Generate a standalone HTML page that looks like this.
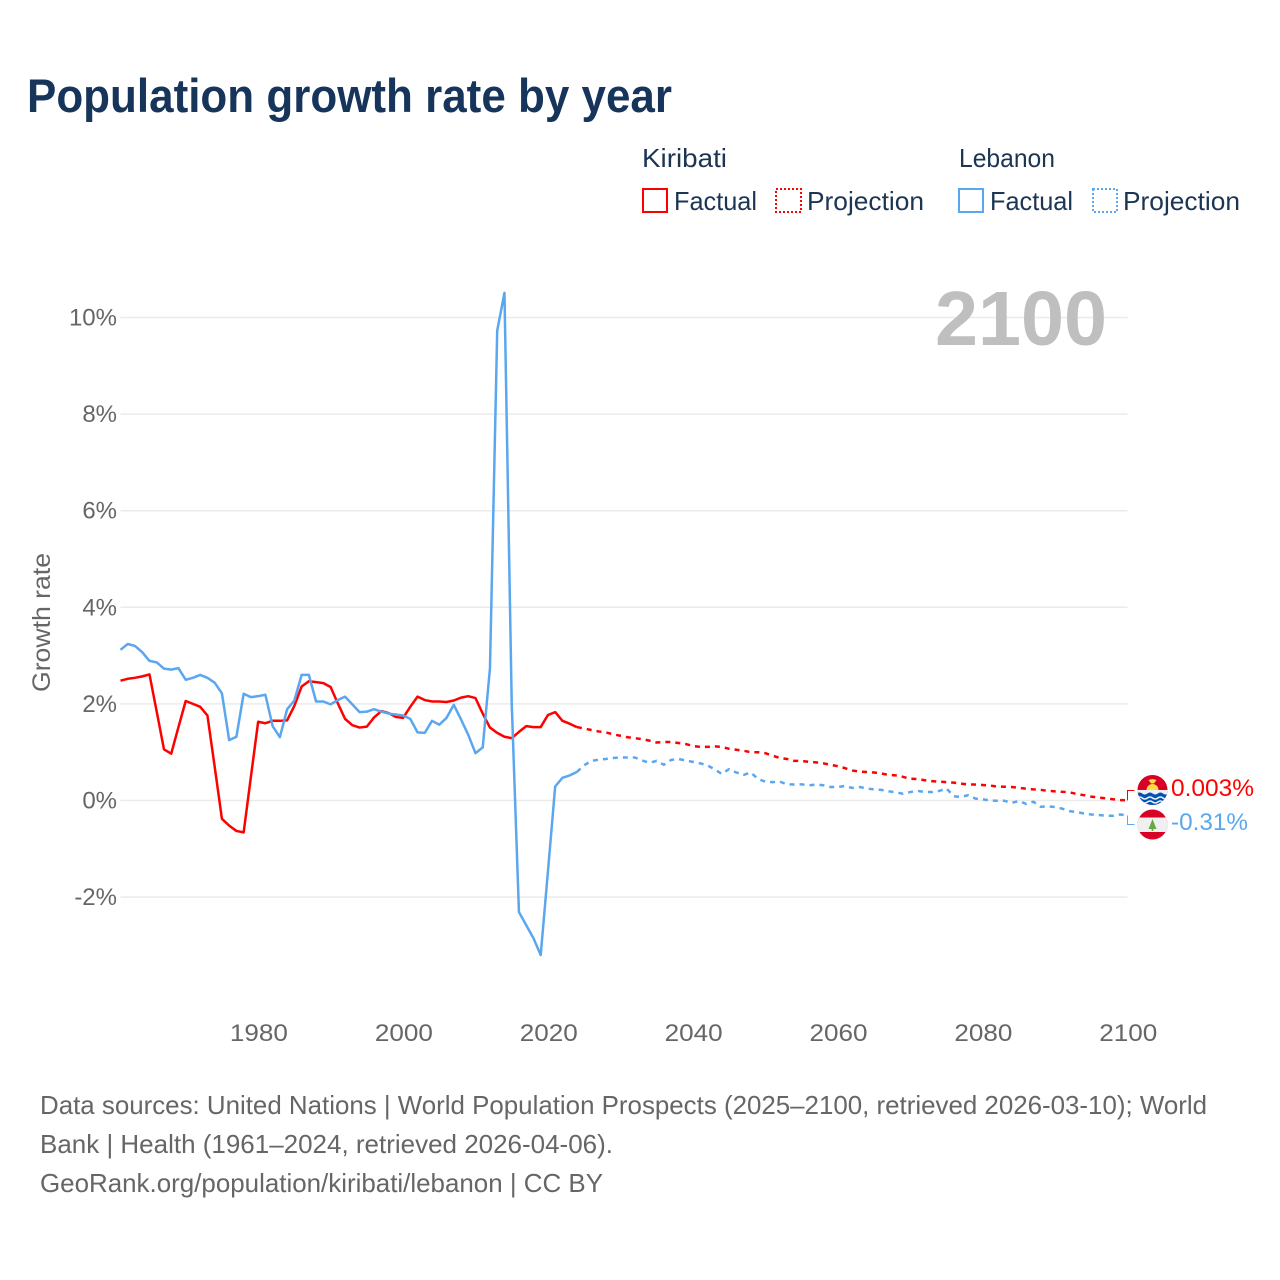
<!DOCTYPE html>
<html lang="en">
<head>
<meta charset="utf-8">
<title>Population growth rate by year</title>
<style>
  html, body { margin: 0; padding: 0; background: #fff; }
  svg { display: block; font-family: "Liberation Sans", sans-serif; }
</style>
</head>
<body>
<svg id="chart" xmlns="http://www.w3.org/2000/svg" width="1280" height="1280" viewBox="0 0 1280 1280">
  <rect x="0" y="0" width="1280" height="1280" fill="#ffffff"/>
  <text x="27" y="112" font-size="47" font-weight="700" fill="#17345a" textLength="645" lengthAdjust="spacingAndGlyphs">Population growth rate by year</text>

  <g font-size="26" fill="#1b3553">
    <text x="642" y="167" textLength="85" lengthAdjust="spacingAndGlyphs">Kiribati</text>
    <text x="959" y="167" textLength="96" lengthAdjust="spacingAndGlyphs">Lebanon</text>
    <g>
      <rect x="643" y="189" width="24" height="23" fill="none" stroke="#ff0000" stroke-width="2"/>
      <text x="674" y="210" textLength="83" lengthAdjust="spacingAndGlyphs">Factual</text>
    </g>
    <g>
      <rect x="776" y="189" width="25" height="23" fill="none" stroke="#ff0000" stroke-width="2" stroke-dasharray="2 2"/>
      <text x="807" y="210" textLength="117" lengthAdjust="spacingAndGlyphs">Projection</text>
    </g>
    <g>
      <rect x="959" y="189" width="24" height="23" fill="none" stroke="#5aa7f0" stroke-width="2"/>
      <text x="990" y="210" textLength="83" lengthAdjust="spacingAndGlyphs">Factual</text>
    </g>
    <g>
      <rect x="1093" y="189" width="24" height="23" fill="none" stroke="#5aa7f0" stroke-width="2" stroke-dasharray="2 2"/>
      <text x="1123" y="210" textLength="117" lengthAdjust="spacingAndGlyphs">Projection</text>
    </g>
  </g>

  <g id="grid"></g>
  <g id="yLabels" font-size="24" fill="#666666" text-anchor="end"></g>
  <g id="xLabels" font-size="24" fill="#666666" text-anchor="middle"></g>
  <text transform="translate(50 692) rotate(-90)" font-size="25" fill="#666666" textLength="139" lengthAdjust="spacingAndGlyphs">Growth rate</text>
  <text id="yearStamp" x="935" y="345" font-size="77" font-weight="700" fill="#bfbfbf" textLength="172" lengthAdjust="spacingAndGlyphs">2100</text>
  <g id="series"></g>

  <defs>
    <clipPath id="flagClipK"><circle cx="1152.5" cy="790" r="15"/></clipPath>
    <clipPath id="flagClipL"><circle cx="1152.5" cy="824.5" r="15"/></clipPath>
  </defs>
  <g clip-path="url(#flagClipK)">
    <rect x="1137" y="775" width="31" height="31" fill="#d80027"/>
    <rect x="1137" y="790" width="31" height="16" fill="#f0f0f0"/>
    <path d="M1146.5 790 A6 6 0 0 1 1158.5 790 Z" fill="#ffda44"/>
    <path d="M1148.5 780 L1152.5 779 L1156.5 780 L1154 783.5 L1151 783.5 Z" fill="#ffda44"/>
    <path d="M1137 793.5 q2.6 -2 5.2 0 t5.2 0 t5.2 0 t5.2 0 t5.2 0 t5.2 0 V806 H1137 Z" fill="#0052b4"/>
    <path d="M1137 798 q2.6 -2 5.2 0 t5.2 0 t5.2 0 t5.2 0 t5.2 0 t5.2 0" fill="none" stroke="#f0f0f0" stroke-width="1.5"/>
    <path d="M1137 802 q2.6 -2 5.2 0 t5.2 0 t5.2 0 t5.2 0 t5.2 0 t5.2 0" fill="none" stroke="#f0f0f0" stroke-width="1.5"/>
  </g>
  <g clip-path="url(#flagClipL)">
    <rect x="1137" y="809" width="31" height="31" fill="#d80027"/>
    <rect x="1137" y="817.5" width="31" height="14.5" fill="#f0f0f0"/>
    <path d="M1152.5 819 L1156.5 829 H1153.3 V831 H1151.7 V829 H1148.5 Z" fill="#6da544"/>
  </g>
  <text id="labelK" x="1171" y="796" font-size="24" fill="#ff0000" textLength="83" lengthAdjust="spacingAndGlyphs"></text>
  <text id="labelL" x="1171" y="830" font-size="24" fill="#5aa7f0" textLength="77" lengthAdjust="spacingAndGlyphs"></text>

  <g font-size="26" fill="#666666">
    <text x="40" y="1114" textLength="1167" lengthAdjust="spacingAndGlyphs">Data sources: United Nations | World Population Prospects (2025–2100, retrieved 2026-03-10); World</text>
    <text x="40" y="1153" textLength="573" lengthAdjust="spacingAndGlyphs">Bank | Health (1961–2024, retrieved 2026-04-06).</text>
    <text x="40" y="1192" textLength="563" lengthAdjust="spacingAndGlyphs">GeoRank.org/population/kiribati/lebanon | CC BY</text>
  </g>
</svg>

<script>
const firstYear = 1961;
const lastFactualYear = 2024;
const lastYear = 2100;
const yTicks = [-2, 0, 2, 4, 6, 8, 10];
const xTicks = [1980, 2000, 2020, 2040, 2060, 2080, 2100];
const kiribatiFactual = [
  2.48, 2.52, 2.54, 2.57, 2.61, 1.84, 1.06, 0.97, 1.52, 2.06,
  2.00, 1.94, 1.76, 0.70, -0.38, -0.52, -0.63, -0.66, 0.49, 1.63,
  1.60, 1.65, 1.65, 1.66, 1.96, 2.36, 2.47, 2.45, 2.43, 2.35,
  2.01, 1.69, 1.56, 1.51, 1.53, 1.72, 1.85, 1.81, 1.73, 1.71,
  1.94, 2.15, 2.08, 2.05, 2.05, 2.04, 2.07, 2.13, 2.16, 2.12,
  1.80, 1.51, 1.40, 1.32, 1.29, 1.42, 1.54, 1.52, 1.52, 1.77,
  1.83, 1.65, 1.59, 1.52
];
const lebanonFactual = [
  3.12, 3.24, 3.20, 3.07, 2.89, 2.86, 2.73, 2.71, 2.74, 2.50,
  2.54, 2.60, 2.54, 2.44, 2.22, 1.25, 1.32, 2.21, 2.14, 2.16,
  2.19, 1.54, 1.31, 1.89, 2.07, 2.60, 2.60, 2.05, 2.05, 1.99,
  2.08, 2.15, 1.99, 1.83, 1.84, 1.89, 1.84, 1.80, 1.78, 1.76,
  1.69, 1.41, 1.40, 1.65, 1.57, 1.71, 1.98, 1.68, 1.36, 0.98,
  1.10, 2.74, 9.73, 10.51, 2.02, -2.31, -2.58, -2.85, -3.20, -1.47,
  0.29, 0.47, 0.52, 0.59
];
const kiribatiProjection = [
  1.49, 1.46, 1.43, 1.41, 1.37, 1.34, 1.31, 1.29, 1.27, 1.24,
  1.20, 1.21, 1.21, 1.19, 1.17, 1.13, 1.11, 1.11, 1.12, 1.11,
  1.07, 1.05, 1.03, 1.00, 1.00, 0.98, 0.93, 0.88, 0.86, 0.82,
  0.82, 0.80, 0.79, 0.77, 0.74, 0.71, 0.67, 0.62, 0.60, 0.59,
  0.58, 0.56, 0.53, 0.52, 0.49, 0.45, 0.445, 0.42, 0.40, 0.39,
  0.38, 0.37, 0.35, 0.33, 0.33, 0.32, 0.31, 0.29, 0.285, 0.28,
  0.26, 0.245, 0.23, 0.22, 0.20, 0.19, 0.18, 0.17, 0.135, 0.11,
  0.08, 0.06, 0.045, 0.025, 0.01, 0.003
];
const lebanonProjection = [
  0.73, 0.82, 0.845, 0.86, 0.88, 0.89, 0.89, 0.89, 0.83, 0.78,
  0.82, 0.74, 0.84, 0.86, 0.83, 0.80, 0.77, 0.73, 0.645, 0.55,
  0.65, 0.58, 0.53, 0.58, 0.445, 0.39, 0.38, 0.39, 0.335, 0.33,
  0.335, 0.315, 0.33, 0.315, 0.28, 0.28, 0.30, 0.26, 0.28, 0.25,
  0.23, 0.22, 0.19, 0.17, 0.14, 0.175, 0.20, 0.175, 0.175, 0.197,
  0.25, 0.09, 0.07, 0.11, 0.04, 0.025, 0.0, -0.005, -0.005, -0.05,
  -0.01, -0.07, -0.025, -0.13, -0.12, -0.135, -0.17, -0.22, -0.24, -0.27,
  -0.29, -0.30, -0.315, -0.315, -0.29, -0.31
];
const kiribatiEndLabel = "0.003%";
const lebanonEndLabel = "-0.31%";

const SVGNS = "http://www.w3.org/2000/svg";
const xStart = 120.5, xEnd = 1127.5, yZero = 800.5, yPerUnit = 48.3;
function xScale(year) { return xStart + (year - firstYear) * (xEnd - xStart) / (lastYear - firstYear); }
function yScale(value) { return yZero - value * yPerUnit; }

const gridLayer = document.getElementById("grid");
const yLabelLayer = document.getElementById("yLabels");
const xLabelLayer = document.getElementById("xLabels");
const seriesLayer = document.getElementById("series");

yTicks.forEach(function (tick) {
  const line = document.createElementNS(SVGNS, "line");
  
  
  line.setAttribute("x1", xStart);
  line.setAttribute("x2", xEnd);
  line.setAttribute("y1", yScale(tick));
  line.setAttribute("y2", yScale(tick));
  line.setAttribute("stroke", "#ebebeb");
  line.setAttribute("stroke-width", "1.5");
  gridLayer.appendChild(line);

  const label = document.createElementNS(SVGNS, "text");
  
  
  label.setAttribute("x", 117);
  label.setAttribute("y", yScale(tick) + 8);
  label.textContent = tick + "%";
  yLabelLayer.appendChild(label);
});

xTicks.forEach(function (tick) {
  const label = document.createElementNS(SVGNS, "text");
  
  
  label.setAttribute("x", xScale(tick) + 0.8);
  label.setAttribute("y", 1041);
  label.setAttribute("textLength", 58);
  label.setAttribute("lengthAdjust", "spacingAndGlyphs");
  label.textContent = tick;
  xLabelLayer.appendChild(label);
});

function buildPath(startYear, values) {
  return values.map(function (v, i) {
    return (i === 0 ? "M" : "L") + xScale(startYear + i).toFixed(2) + " " + yScale(v).toFixed(2);
  }).join(" ");
}

function addPath(d, color, dash) {
  const path = document.createElementNS(SVGNS, "path");
  path.setAttribute("d", d);
  path.setAttribute("fill", "none");
  path.setAttribute("stroke", color);
  path.setAttribute("stroke-width", "2.5");
  path.setAttribute("stroke-linejoin", "round");
  if (dash) path.setAttribute("stroke-dasharray", dash);
  seriesLayer.appendChild(path);
  return path;
}

const redColor = "#ff0000";
const blueColor = "#5aa7f0";

const kirProjectionLine = addPath(buildPath(lastFactualYear, [kiribatiFactual[kiribatiFactual.length - 1]].concat(kiribatiProjection)), redColor, "5 5");



const lebProjectionLine = addPath(buildPath(lastFactualYear, [lebanonFactual[lebanonFactual.length - 1]].concat(lebanonProjection)), blueColor, "5 5");



const kirFactualLine = addPath(buildPath(firstYear, kiribatiFactual), redColor);



const lebFactualLine = addPath(buildPath(firstYear, lebanonFactual), blueColor);



const kirEnd = kiribatiProjection[kiribatiProjection.length - 1];
const lebEnd = lebanonProjection[lebanonProjection.length - 1];
const xLast = xScale(lastYear);

const kirConnector = document.createElementNS(SVGNS, "path");


kirConnector.setAttribute("d", "M" + xLast + " " + yScale(kirEnd) + " V790.5 H1134.5");
kirConnector.setAttribute("fill", "none");
kirConnector.setAttribute("stroke", redColor);
kirConnector.setAttribute("stroke-width", "1");
seriesLayer.appendChild(kirConnector);

const lebConnector = document.createElementNS(SVGNS, "path");


lebConnector.setAttribute("d", "M" + xLast + " " + yScale(lebEnd) + " V824.5 H1134.5");
lebConnector.setAttribute("fill", "none");
lebConnector.setAttribute("stroke", blueColor);
lebConnector.setAttribute("stroke-width", "1");
seriesLayer.appendChild(lebConnector);

document.getElementById("labelK").textContent = kiribatiEndLabel;
document.getElementById("labelL").textContent = lebanonEndLabel;
</script>
</body>
</html>
